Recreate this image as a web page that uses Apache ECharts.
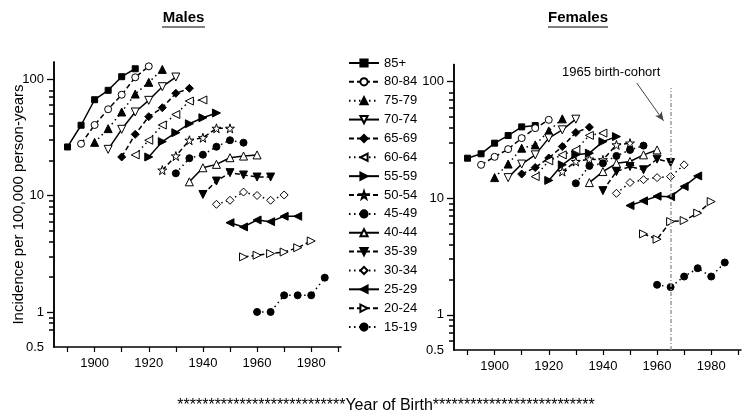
<!DOCTYPE html>
<html>
<head>
<meta charset="utf-8">
<script src="https://cdn.jsdelivr.net/npm/echarts@6/dist/echarts.min.js"></script>
<style>html,body{margin:0;padding:0;background:#fff}#c{width:750px;height:416px}</style>
</head>
<body>
<div id="c"></div>
<script>
const ageGroups = ['85+','80-84','75-79','70-74','65-69','60-64','55-59','50-54','45-49','40-44','35-39','30-34','25-29','20-24','15-19'];

const cohortYears = [
  [1890,1895,1900,1905,1910,1915],
  [1895,1900,1905,1910,1915,1920],
  [1900,1905,1910,1915,1920,1925],
  [1905,1910,1915,1920,1925,1930],
  [1910,1915,1920,1925,1930,1935],
  [1915,1920,1925,1930,1935,1940],
  [1920,1925,1930,1935,1940,1945],
  [1925,1930,1935,1940,1945,1950],
  [1930,1935,1940,1945,1950,1955],
  [1935,1940,1945,1950,1955,1960],
  [1940,1945,1950,1955,1960,1965],
  [1945,1950,1955,1960,1965,1970],
  [1950,1955,1960,1965,1970,1975],
  [1955,1960,1965,1970,1975,1980],
  [1960,1965,1970,1975,1980,1985]
];

const maleRates = [
  [26.1, 40.1, 66.4, 80.0, 104.7, 122.5],
  [27.8, 40.3, 55.0, 73.3, 103.4, 128.5],
  [28.6, 37.5, 52.1, 74.3, 93.7, 121.0],
  [24.9, 37.0, 52.1, 65.6, 85.9, 104.0],
  [21.4, 33.5, 47.5, 56.7, 75.4, 83.2],
  [22.3, 29.8, 40.3, 49.6, 64.7, 66.1],
  [21.4, 29.0, 34.6, 41.3, 46.5, 51.1],
  [16.5, 21.8, 29.8, 31.3, 37.7, 37.7],
  [15.5, 20.9, 22.4, 26.2, 29.8, 28.4],
  [13.1, 17.3, 18.5, 21.1, 21.8, 22.3],
  [10.2, 13.3, 15.7, 15.0, 14.4, 14.4],
  [8.4, 9.1, 10.7, 10.0, 9.1, 10.1],
  [5.84, 5.37, 6.16, 5.96, 6.63, 6.63],
  [2.97, 3.07, 3.17, 3.27, 3.56, 4.07],
  [1.0, 1.0, 1.39, 1.39, 1.39, 1.97]
];

const femaleRates = [
  [22.0, 24.0, 29.6, 34.4, 40.8, 41.9],
  [19.3, 22.6, 26.3, 32.7, 39.8, 46.9],
  [15.0, 19.6, 26.8, 28.6, 37.7, 47.8],
  [15.0, 19.6, 23.5, 32.7, 38.5, 47.5],
  [16.1, 18.3, 22.1, 27.7, 36.5, 40.6],
  [15.3, 20.9, 23.5, 25.9, 34.5, 36.1],
  [14.2, 19.3, 23.5, 24.3, 30.5, 33.7],
  [16.9, 20.6, 21.6, 21.3, 28.6, 29.6],
  [13.4, 18.9, 19.9, 23.0, 25.9, 28.2],
  [13.6, 16.9, 19.9, 20.6, 23.5, 25.9],
  [11.6, 16.9, 18.7, 17.5, 21.6, 20.2],
  [11.0, 13.6, 14.4, 15.0, 15.3, 19.3],
  [8.64, 9.48, 10.4, 10.3, 12.6, 15.5],
  [4.94, 4.45, 6.30, 6.43, 7.44, 9.35],
  [1.81, 1.73, 2.13, 2.51, 2.13, 2.81]
];

const xTickValues = [1890,1900,1910,1920,1930,1940,1950,1960,1970,1980,1990];
const xLabelValues = [1900,1920,1940,1960,1980];
const yLabelValues = [0.5,1,10,100];
const yMajorTicks = [1,10,100];
const yMinorTicks = [0.6,0.7,0.8,0.9,2,3,4,5,6,7,8,9,20,30,40,50,60,70,80,90];

const cohortLineYear = 1965;
const cohortLineTop = 88;
const arrowFrom = [1952.5, 97];
const arrowTo = [1962.4, 46];

// styles
const STAR = 'path://M50,2 L61,36 L97,36 L68,57 L79,92 L50,71 L21,92 L32,57 L3,36 L39,36 Z';
const symbolShapes = ['rect','circle','triangle','triangle','diamond','triangle','triangle',STAR,'circle','triangle','triangle','diamond','triangle','triangle','circle'];
const symbolRot = [0,0,0,180,0,90,-90,0,0,0,180,0,90,-90,0];
const symbolOpen = [false,true,false,true,false,true,false,true,false,true,false,true,false,true,false];
const symbolSizes = [6,7,8,8,8,8,8,9,7,8,8,8,8,8,7];
const dashTypes = ['solid',[5,3],[1.5,3.5]];

const FONT = 'Liberation Sans, Arial, sans-serif';

function makeSeries(rates, xi, yi) {
  return ageGroups.map((name, i) => ({
    name: name,
    type: 'line',
    xAxisIndex: xi,
    yAxisIndex: yi,
    data: cohortYears[i].map((yr, k) => [yr, rates[i][k]]),
    symbol: symbolShapes[i],
    symbolRotate: symbolRot[i],
    symbolSize: symbolSizes[i],
    showAllSymbol: true,
    lineStyle: { color: '#000', width: 1.5, type: dashTypes[i % 3] },
    itemStyle: { color: symbolOpen[i] ? '#fff' : '#000', borderColor: '#000', borderWidth: 1 },
    emphasis: { disabled: true },
    animation: false,
    z: 3
  }));
}

function xAxisCfg(gi) {
  return {
    type: 'value', gridIndex: gi, min: 1885, max: 1991,
    axisLine: { show: true, lineStyle: { color: '#000', width: 1.5 } },
    axisTick: { show: true, customValues: xTickValues, length: 5, lineStyle: { color: '#000', width: 1.2 } },
    axisLabel: { customValues: xLabelValues, color: '#000', fontSize: 13, fontFamily: FONT, margin: 10,
      formatter: v => String(v) },
    splitLine: { show: false }
  };
}
function yAxisMain(gi, withName) {
  return {
    type: 'log', gridIndex: gi, position: 'left', min: 0.5, max: 140, logBase: 10,
    name: withName ? 'Incidence per 100,000 person-years' : '',
    nameLocation: 'middle', nameGap: 28, nameMoveOverlap: false,
    nameTextStyle: { color: '#000', fontSize: 15, fontFamily: FONT },
    axisLine: { show: true, lineStyle: { color: '#000', width: 1.5 } },
    axisTick: { show: true, customValues: yMajorTicks, length: 7, lineStyle: { color: '#000', width: 1.3 } },
    axisLabel: { customValues: yLabelValues, color: '#000', fontSize: 13, fontFamily: FONT, margin: 10,
      formatter: v => String(v) },
    splitLine: { show: false }
  };
}
function yAxisMinor(gi) {
  return {
    type: 'log', gridIndex: gi, position: 'left', offset: 0, min: 0.5, max: 140, logBase: 10,
    axisLine: { show: true, lineStyle: { color: '#000', width: 1.5 } },
    axisTick: { show: true, customValues: yMinorTicks, length: 5, lineStyle: { color: '#000', width: 1.5 } },
    axisLabel: { show: true, customValues: yMinorTicks, color: 'rgba(255,255,255,0)', fontSize: 8, margin: 12 },
    splitLine: { show: false }
  };
}

const series = [].concat(makeSeries(maleRates, 0, 0), makeSeries(femaleRates, 1, 2));
series.push({
  name: 'annot', type: 'line', xAxisIndex: 1, yAxisIndex: 2,
  data: [[cohortLineYear, 0.5]], symbol: 'none', animation: false, silent: true,
  lineStyle: { opacity: 0 },
  markLine: {
    silent: true, animation: false, symbol: 'none', label: { show: false },
    data: [
      [{ coord: [cohortLineYear, 0.5], lineStyle: { color: '#9a9a9a', width: 1.5, type: [4, 2, 1, 2] } },
       { coord: [cohortLineYear, cohortLineTop] }],
      [{ coord: arrowFrom, symbol: 'none', lineStyle: { color: '#444', width: 1, type: 'solid' } },
       { coord: arrowTo, symbol: 'arrow', symbolSize: [6, 9] }]
    ]
  },
  z: 1
});

const chart = echarts.init(document.getElementById('c'), null, { renderer: 'canvas' });
chart.setOption({
  animation: false,
  backgroundColor: '#fff',
  textStyle: { fontFamily: FONT },
  grid: [
    { left: 54, top: 62, width: 287, height: 285 },
    { left: 454, top: 64.4, width: 287, height: 285.6 }
  ],
  xAxis: [xAxisCfg(0), xAxisCfg(1)],
  yAxis: [yAxisMain(0, true), yAxisMinor(0), yAxisMain(1, false), yAxisMinor(1)],
  legend: {
    data: ageGroups, orient: 'vertical', left: 343, top: 51,
    itemWidth: 30, itemHeight: 9, itemGap: 4.86,
    textStyle: { color: '#000', fontSize: 13, fontFamily: FONT, lineHeight: 14 },
    selectedMode: false, inactiveColor: '#000'
  },
  graphic: [
    { type: 'text', x: 183.5, y: 18, style: { text: 'Males', font: 'bold 15px ' + FONT, fill: '#000', textAlign: 'center', textVerticalAlign: 'middle' } },
    { type: 'line', shape: { x1: 162, y1: 27, x2: 205, y2: 27 }, style: { stroke: '#000', lineWidth: 1.2 } },
    { type: 'text', x: 578, y: 18, style: { text: 'Females', font: 'bold 15px ' + FONT, fill: '#000', textAlign: 'center', textVerticalAlign: 'middle' } },
    { type: 'line', shape: { x1: 548, y1: 27, x2: 608, y2: 27 }, style: { stroke: '#000', lineWidth: 1.2 } },
    { type: 'text', x: 562, y: 72, style: { text: '1965 birth-cohort', font: '13px ' + FONT, fill: '#000', textAlign: 'left', textVerticalAlign: 'middle' } },
    { type: 'text', x: 386, y: 406, style: { text: '***************************Year of Birth**************************', font: '16px ' + FONT, fill: '#000', textAlign: 'center', textVerticalAlign: 'middle' } }
  ],
  series: series
});
</script>
</body>
</html>
